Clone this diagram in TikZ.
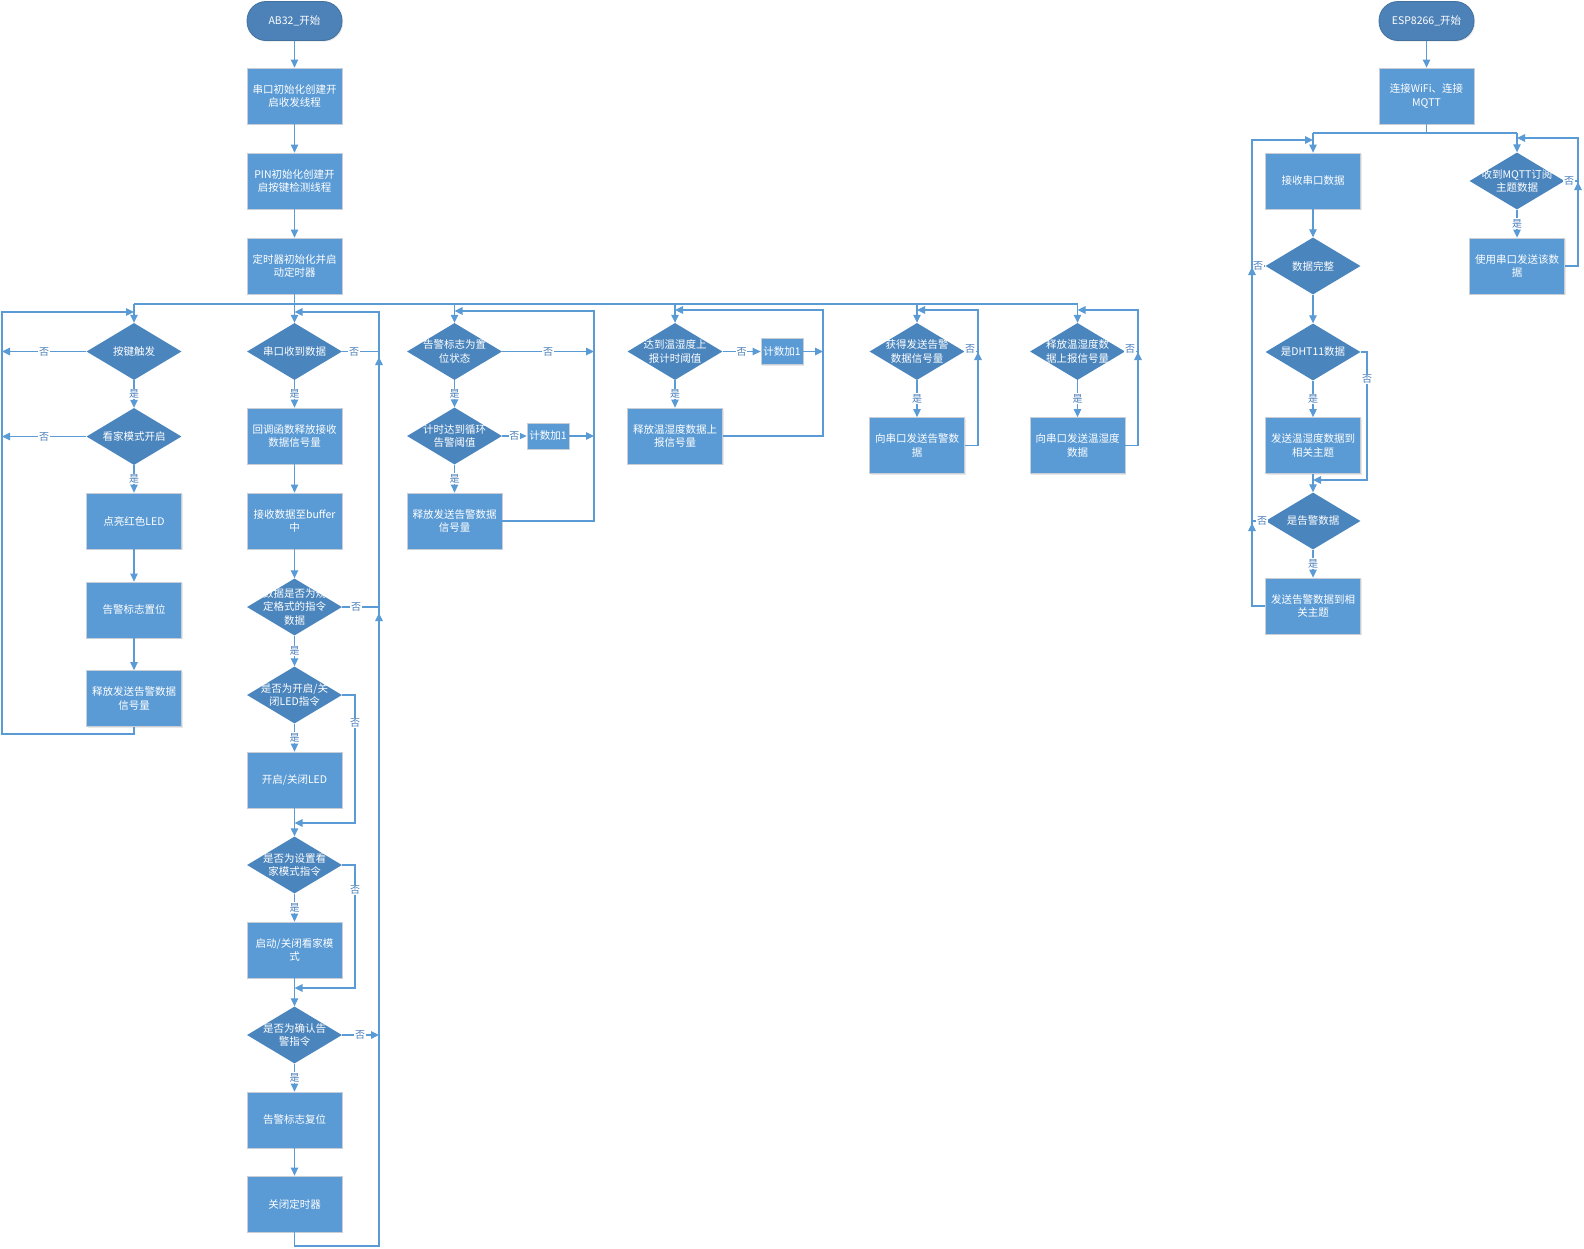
\documentclass[tikz,border=0pt]{standalone}
\usepackage{fontspec}
\setmainfont{Noto Sans CJK SC}
\usetikzlibrary{arrows.meta,shapes.geometric,shadows}
\definecolor{boxblue}{HTML}{5B9BD5}
\definecolor{boxedge}{HTML}{C9CED6}
\definecolor{diablue}{HTML}{4B85BD}
\definecolor{termblue}{HTML}{4D82B8}
\definecolor{termedge}{HTML}{41719C}
\definecolor{lineblue}{HTML}{5B9BD5}
\definecolor{labblue}{HTML}{4A7EBB}
\newcommand\boxfont{\fontsize{10.5}{13.5}\selectfont}
\newcommand\labfont{\fontsize{10}{10}\selectfont}
\newcommand\Dia[3]{\node[dia] (#1) at (#2) {}; \node[dtext] at (#1.center) {#3};}
\tikzset{
  box/.style={rectangle, fill=boxblue, draw=boxedge, line width=0.8pt, minimum width=95pt, minimum height=56pt, inner sep=0pt, text=white, align=center, font=\boxfont, drop shadow={shadow xshift=1.2pt, shadow yshift=-1.2pt, opacity=0.18}},
  cnt/.style={box, minimum width=42pt, minimum height=26pt},
  dia/.style={diamond, fill=diablue, minimum width=95pt, minimum height=57pt, inner sep=0pt},
  dtext/.style={text=white, align=center, font=\boxfont, inner sep=0pt},
  term/.style={rectangle, rounded corners=19pt, fill=termblue, draw=termedge, line width=0.8pt, minimum width=95pt, minimum height=39pt, text=white, font=\boxfont, drop shadow={shadow xshift=1.2pt, shadow yshift=-1.2pt, opacity=0.18}},
  ln/.style={draw=lineblue, line width=1.1pt},
  conn/.style={ln, -{Triangle[length=8pt,width=7.5pt]}},
  lab/.style={fill=white, text=labblue, font=\labfont, inner sep=0.8pt},
}
\begin{document}
\begin{tikzpicture}[x=1pt,y=-1pt]
\useasboundingbox (0,0) rectangle (1584,1248);
% ---------- AB32 main ----------
\node[term] (t1) at (294.5,21) {AB32\_开始};
\node[box] (b1) at (294.5,96) {串口初始化创建开\\启收发线程};
\node[box] (b2) at (294.5,181) {PIN初始化创建开\\启按键检测线程};
\node[box] (b3) at (294.5,266) {定时器初始化并启\\动定时器};
% col1
\Dia{d11}{134,351.5}{按键触发}
\Dia{d12}{134,436.5}{看家模式开启}
\node[box] (b11) at (134,521) {点亮红色LED};
\node[box] (b12) at (134,610) {告警标志置位};
\node[box] (b13) at (134,698.5) {释放发送告警数据\\信号量};
% col2
\Dia{d21}{294.5,351.5}{串口收到数据}
\node[box] (b21) at (294.5,436) {回调函数释放接收\\数据信号量};
\node[box] (b22) at (294.5,521) {接收数据至buffer\\中};
\Dia{d22}{294.5,607}{数据是否为规\\定格式的指令\\数据}
\Dia{d23}{294.5,695}{是否为开启/关\\闭LED指令}
\node[box] (b23) at (294.5,780) {开启/关闭LED};
\Dia{d24}{294.5,865}{是否为设置看\\家模式指令}
\node[box] (b24) at (294.5,950) {启动/关闭看家模\\式};
\Dia{d25}{294.5,1035}{是否为确认告\\警指令}
\node[box] (b25) at (294.5,1120) {告警标志复位};
\node[box] (b26) at (294.5,1204) {关闭定时器};
% col3
\Dia{d31}{454.5,351.5}{告警标志为置\\位状态}
\Dia{d32}{454.5,436}{计时达到循环\\告警阈值}
\node[cnt] (c31) at (548,436) {计数加1};
\node[box] (b31) at (454.5,521) {释放发送告警数据\\信号量};
% col4
\Dia{d41}{675,351.5}{达到温湿度上\\报计时阈值}
\node[cnt] (c41) at (782,351.5) {计数加1};
\node[box] (b41) at (675,436) {释放温湿度数据上\\报信号量};
% col5
\Dia{d51}{917,351.5}{获得发送告警\\数据信号量}
\node[box] (b51) at (917,445.5) {向串口发送告警数\\据};
% col6
\Dia{d61}{1077.5,351.5}{释放温湿度数\\据上报信号量}
\node[box] (b61) at (1077.5,445.5) {向串口发送温湿度\\数据};
% ---------- ESP8266 ----------
\node[term] (t2) at (1426.5,21) {ESP8266\_开始};
\node[box] (b71) at (1426.5,96) {连接WiFi、连接\\MQTT};
\node[box] (e1) at (1313,181) {接收串口数据};
\Dia{e2}{1313,266}{数据完整}
\Dia{e3}{1313,352}{是DHT11数据}
\node[box] (e4) at (1313,445.5) {发送温湿度数据到\\相关主题};
\Dia{e5}{1313,521}{是告警数据}
\node[box] (e6) at (1313,606) {发送告警数据到相\\关主题};
\Dia{m1}{1517,181}{收到MQTT订阅\\主题数据}
\node[box] (m2) at (1517,266) {使用串口发送该数\\据};

% ---------- connectors: AB32 ----------
\draw[conn] (t1) -- (b1);
\draw[conn] (b1) -- (b2);
\draw[conn] (b2) -- (b3);
\coordinate (busL) at (134,304);
\coordinate (busR) at (1077.5,304);
\draw[ln] (busL) -- (busR);
\draw[conn] (busL) -- (d11.north);
\draw[conn] (b3.south) -- (d21.north);
\draw[conn] (d31.north |- busL) -- (d31.north);
\draw[conn] (d41.north |- busL) -- (d41.north);
\draw[conn] (d51.north |- busL) -- (d51.north);
\draw[conn] (d61.north |- busL) -- (d61.north);
% col1
\draw[conn] (d11.west) -- node[lab]{否} (2,351.5);
\draw[conn] (d12.west) -- node[lab]{否} (2,436.5);
\draw[conn] (d11.south) -- node[lab]{是} (d12.north);
\draw[conn] (d12.south) -- node[lab]{是} (b11.north);
\draw[conn] (b11) -- (b12);
\draw[conn] (b12) -- (b13);
\draw[conn] (b13.south) -- (134,734) -- (2,734) -- (2,312) -- (134,312);
% col2
\draw[conn] (d21.south) -- node[lab]{是} (b21.north);
\draw[conn] (b21) -- (b22);
\draw[conn] (b22.south) -- (d22.north);
\draw[conn] (d22.south) -- node[lab]{是} (d23.north);
\draw[conn] (d23.south) -- node[lab]{是} (b23.north);
\draw[conn] (b23.south) -- (d24.north);
\draw[conn] (d24.south) -- node[lab]{是} (b24.north);
\draw[conn] (b24.south) -- (d25.north);
\draw[conn] (d25.south) -- node[lab]{是} (b25.north);
\draw[conn] (b25) -- (b26);
\draw[ln] (d21.east) -- (379,351.5);
\node[lab] at (354,351.5) {否};
\draw[ln] (d22.east) -- (379,607);
\node[lab] at (356,607) {否};
\draw[conn] (d23.east) -- (355,695) -- (355,823) -- (294.5,823);
\node[lab] at (355,723) {否};
\draw[conn] (d24.east) -- (355,865) -- (355,988) -- (294.5,988);
\node[lab] at (355,890) {否};
\draw[conn] (d25.east) -- (379,1035);
\node[lab] at (360,1035) {否};
\draw[conn] (b26.south) -- (294.5,1246) -- (379,1246) -- (379,312) -- (294.5,312);
\draw[conn] (379,385) -- (379,357);
\draw[conn] (379,640) -- (379,613);
% col3
\draw[conn] (d31.east) -- node[lab]{否} (594,351.5);
\draw[conn] (d31.south) -- node[lab]{是} (d32.north);
\draw[conn] (d32.east) -- node[lab]{否} (c31.west);
\draw[conn] (c31.east) -- (594,436);
\draw[conn] (d32.south) -- node[lab]{是} (b31.north);
\draw[conn] (b31.east) -- (594,521) -- (594,311) -- (454.5,311);
% col4
\draw[conn] (d41.east) -- node[lab]{否} (c41.west);
\draw[conn] (c41.east) -- (823,351.5);
\draw[conn] (d41.south) -- node[lab]{是} (b41.north);
\draw[conn] (b41.east) -- (823,436) -- (823,310) -- (675,310);
% col5
\draw[conn] (d51.south) -- node[lab]{是} (b51.north);
\draw[ln] (d51.east) -- (978,351.5);
\draw[conn] (b51.east) -- (978,445.5) -- (978,310) -- (917,310);
\draw[conn] (978,380) -- (978,352);
\node[lab] at (970,349) {否};
% col6
\draw[conn] (d61.south) -- node[lab]{是} (b61.north);
\draw[ln] (d61.east) -- (1138,351.5);
\draw[conn] (b61.east) -- (1138,445.5) -- (1138,310) -- (1077.5,310);
\draw[conn] (1138,380) -- (1138,352);
\node[lab] at (1130,349) {否};

% ---------- connectors: ESP8266 ----------
\draw[conn] (t2) -- (b71);
\coordinate (sp) at (1426.5,133);
\draw[ln] (b71.south) -- (sp);
\draw[ln] (e1.north |- sp) -- (m1.north |- sp);
\draw[conn] (e1.north |- sp) -- (e1.north);
\draw[conn] (m1.north |- sp) -- (m1.north);
\draw[conn] (e1) -- (e2);
\draw[conn] (e2.south) -- (e3.north);
\draw[ln] (e2.west) -- (1252,266);
\node[lab] at (1258,266) {否};
\draw[conn] (e3.south) -- node[lab]{是} (e4.north);
\draw[conn] (e3.east) -- (1367,352) -- (1367,480) -- (1313,480);
\node[lab] at (1367,379) {否};
\draw[conn] (e4.south) -- (e5.north);
\draw[ln] (e5.west) -- (1252,521);
\node[lab] at (1262,521) {否};
\draw[conn] (e5.south) -- node[lab]{是} (e6.north);
\draw[conn] (e6.west) -- (1252,606) -- (1252,140) -- (1313,140);
\draw[conn] (1252,295) -- (1252,267);
\draw[conn] (1252,550) -- (1252,523);
\draw[conn] (m1.south) -- node[lab]{是} (m2.north);
\draw[ln] (m1.east) -- (1578,181);
\draw[conn] (m2.east) -- (1578,266) -- (1578,138) -- (1517,138);
\draw[conn] (1578,210) -- (1578,182);
\node[lab] at (1569,181) {否};
\end{tikzpicture}
\end{document}
